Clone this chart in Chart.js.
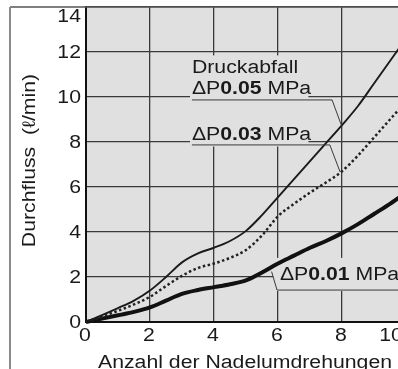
<!DOCTYPE html>
<html>
<head>
<meta charset="utf-8">
<script src="https://cdn.jsdelivr.net/npm/chart.js@4/dist/chart.umd.min.js"></script>
<style>
    html, body { margin: 0; padding: 0; background: #fff; overflow: hidden; }
    #wrap { width: 398px; height: 369px; overflow: hidden; }
</style>
</head>
<body>
<div id="wrap"><canvas id="flow-chart" width="420" height="369"></canvas></div>
<script>
// Values
const turns   = [0, 1, 1.5, 2, 2.5, 3, 3.5, 4, 4.5, 5, 5.5, 6, 6.5, 7, 7.5, 8, 8.5, 9, 9.5, 10];
const flow005 = [0, 0.62, 0.95, 1.4, 2.0, 2.65, 3.05, 3.3, 3.6, 4.05, 4.75, 5.55, 6.35, 7.15, 7.95, 8.75, 9.6, 10.6, 11.6, 12.6];
const flow003 = [0, 0.5, 0.78, 1.12, 1.6, 2.05, 2.4, 2.6, 2.85, 3.2, 3.85, 4.7, 5.25, 5.75, 6.2, 6.7, 7.4, 8.2, 9.0, 9.8];
const flow001 = [0, 0.3, 0.45, 0.65, 0.95, 1.25, 1.42, 1.55, 1.68, 1.85, 2.2, 2.6, 2.95, 3.3, 3.6, 3.95, 4.35, 4.8, 5.25, 5.75];
const xTicks = [0, 2, 4, 6, 8, 10];
const yTicks = [0, 2, 4, 6, 8, 10, 12, 14];

const FONT = '"Liberation Sans", Arial, sans-serif';
const SX = 1.18; // reference text is slightly stretched horizontally

function toPoints(ys) {
    return turns.map((t, i) => ({ x: t, y: ys[i] }));
}

// draws runs of [text, bold] one after the other, stretched in x
function drawRuns(ctx, runs, x, y, align) {
    ctx.save();
    ctx.translate(x, y);
    ctx.scale(SX, 1);
    let total = 0;
    runs.forEach(r => {
        ctx.font = (r[1] ? 'bold ' : '') + '18px ' + FONT;
        total += ctx.measureText(r[0]).width;
    });
    let cx = align === 'center' ? -total / 2 : align === 'right' ? -total : 0;
    ctx.textAlign = 'left';
    runs.forEach(r => {
        ctx.font = (r[1] ? 'bold ' : '') + '18px ' + FONT;
        ctx.fillText(r[0], cx, 0);
        cx += ctx.measureText(r[0]).width;
    });
    ctx.restore();
}

const decorPlugin = {
    id: 'decor',
    beforeDraw(chart) {
        const { ctx, chartArea } = chart;
        ctx.save();
        ctx.fillStyle = '#fff';
        ctx.fillRect(0, 0, chart.width, chart.height);
        ctx.fillStyle = '#e0e0e0';
        ctx.fillRect(chartArea.left, chartArea.top, chartArea.right - chartArea.left, chartArea.bottom - chartArea.top);
        ctx.restore();
    },
    beforeDatasetsDraw(chart) {
        // label boxes hide the grid behind the texts
        const { ctx } = chart;
        const xs = chart.scales.x, ys = chart.scales.y;
        ctx.save();
        ctx.fillStyle = '#e0e0e0';
        const x1 = xs.getPixelForValue(3.25), x2 = xs.getPixelForValue(6.95);
        ctx.fillRect(x1, ys.getPixelForValue(11.85), x2 - x1, ys.getPixelForValue(7.8) - ys.getPixelForValue(11.85));
        const x3 = xs.getPixelForValue(5.85);
        ctx.fillRect(x3, ys.getPixelForValue(2.85), chart.width - x3, ys.getPixelForValue(1.38) - ys.getPixelForValue(2.85));
        ctx.restore();
    },
    afterDatasetsDraw(chart) {
        const { ctx, chartArea } = chart;
        const xs = chart.scales.x, ys = chart.scales.y;
        ctx.save();
        ctx.fillStyle = '#1a1a1a';
        ctx.textBaseline = 'alphabetic';

        const lx = xs.getPixelForValue(3.31);
        drawRuns(ctx, [['Druckabfall', false]], lx, ys.getPixelForValue(11.07), 'left');
        drawRuns(ctx, [['\u0394P', false], ['0.05', true], [' MPa', false]], lx, ys.getPixelForValue(10.12), 'left');
        drawRuns(ctx, [['\u0394P', false], ['0.03', true], [' MPa', false]], lx, ys.getPixelForValue(8.11), 'left');
        drawRuns(ctx, [['\u0394P', false], ['0.01', true], [' MPa', false]], xs.getPixelForValue(6.06), ys.getPixelForValue(1.87), 'left');

        // underlines and leader lines
        ctx.strokeStyle = '#3a3a3a';
        ctx.lineWidth = 1;
        ctx.beginPath();
        ctx.moveTo(lx, ys.getPixelForValue(9.87));
        ctx.lineTo(xs.getPixelForValue(7.69), ys.getPixelForValue(9.87));
        ctx.lineTo(xs.getPixelForValue(8.0), ys.getPixelForValue(8.67));
        ctx.moveTo(lx, ys.getPixelForValue(7.87));
        ctx.lineTo(xs.getPixelForValue(7.62), ys.getPixelForValue(7.87));
        ctx.lineTo(xs.getPixelForValue(7.94), ys.getPixelForValue(6.67));
        ctx.moveTo(chart.width, ys.getPixelForValue(1.42));
        ctx.lineTo(xs.getPixelForValue(5.97), ys.getPixelForValue(1.42));
        ctx.lineTo(xs.getPixelForValue(5.8), ys.getPixelForValue(2.24));
        ctx.stroke();

        // y tick labels (top one sits below the frame line)
        ctx.textBaseline = 'middle';
        yTicks.forEach(v => {
            let y = ys.getPixelForValue(v);
            if (v === 14) y += 9;
            drawRuns(ctx, [[String(v), false]], chartArea.left - 5, y + 1, 'right');
        });
        // x tick labels (the last one sits left of its grid line, as in the print)
        ctx.textBaseline = 'top';
        xTicks.forEach(v => {
            const shift = v === 10 ? -15 : -1;
            drawRuns(ctx, [[String(v), false]], xs.getPixelForValue(v) + shift, chartArea.bottom + 5, 'center');
        });
        // axis titles
        ctx.textBaseline = 'alphabetic';
        drawRuns(ctx, [['Anzahl der Nadelumdrehungen', false]], (chartArea.left + chartArea.right) / 2 - 1, chartArea.bottom + 46, 'center');
        ctx.save();
        ctx.translate(chartArea.left - 51, (chartArea.top + chartArea.bottom) / 2 - 4);
        ctx.rotate(-Math.PI / 2);
        drawRuns(ctx, [['Durchfluss  (\u2113/min)', false]], 0, 0, 'center');
        ctx.restore();

        // outer frame
        ctx.strokeStyle = '#555';
        ctx.lineWidth = 1.5;
        ctx.beginPath();
        ctx.moveTo(10, chartArea.top);
        ctx.lineTo(chart.width, chartArea.top);
        ctx.stroke();
        ctx.strokeStyle = '#8a8a8a';
        ctx.lineWidth = 2;
        ctx.beginPath();
        ctx.moveTo(10, chartArea.top);
        ctx.lineTo(10, chart.height);
        ctx.stroke();
        ctx.restore();
    }
};

const ctx = document.getElementById('flow-chart').getContext('2d');
const flowChart = new Chart(ctx, {
    type: 'line',
    data: {
        datasets: [
            {
                label: '\u0394P0.05 MPa',
                data: toPoints(flow005),
                borderColor: '#1a1a1a',
                borderWidth: 1.9,
                pointRadius: 0,
                cubicInterpolationMode: 'monotone',
                clip: false
            },
            {
                label: '\u0394P0.03 MPa',
                data: toPoints(flow003),
                borderColor: '#222',
                borderWidth: 2.5,
                borderDash: [2.5, 2.5],
                pointRadius: 0,
                cubicInterpolationMode: 'monotone',
                clip: false
            },
            {
                label: '\u0394P0.01 MPa',
                data: toPoints(flow001),
                borderColor: '#111',
                borderWidth: 4,
                pointRadius: 0,
                cubicInterpolationMode: 'monotone',
                clip: false
            }
        ]
    },
    options: {
        responsive: false,
        animation: false,
        events: [],
        layout: { padding: { top: 7, right: 14, left: 0, bottom: 0 } },
        plugins: {
            legend: { display: false },
            tooltip: { enabled: false },
            title: { display: false }
        },
        scales: {
            x: {
                type: 'linear',
                min: 0,
                max: 10,
                ticks: { stepSize: 2, display: false },
                grid: { color: '#3a3a3a', lineWidth: 1.3, drawTicks: false },
                border: { display: true, color: '#111', width: 2 },
                afterFit: (scale) => { scale.height = 47; }
            },
            y: {
                type: 'linear',
                min: 0,
                max: 14,
                ticks: { stepSize: 2, display: false },
                grid: { color: '#3a3a3a', lineWidth: 1.3, drawTicks: false },
                border: { display: true, color: '#111', width: 2 },
                afterFit: (scale) => { scale.width = 86; }
            }
        }
    },
    plugins: [decorPlugin]
});
</script>
</body>
</html>
